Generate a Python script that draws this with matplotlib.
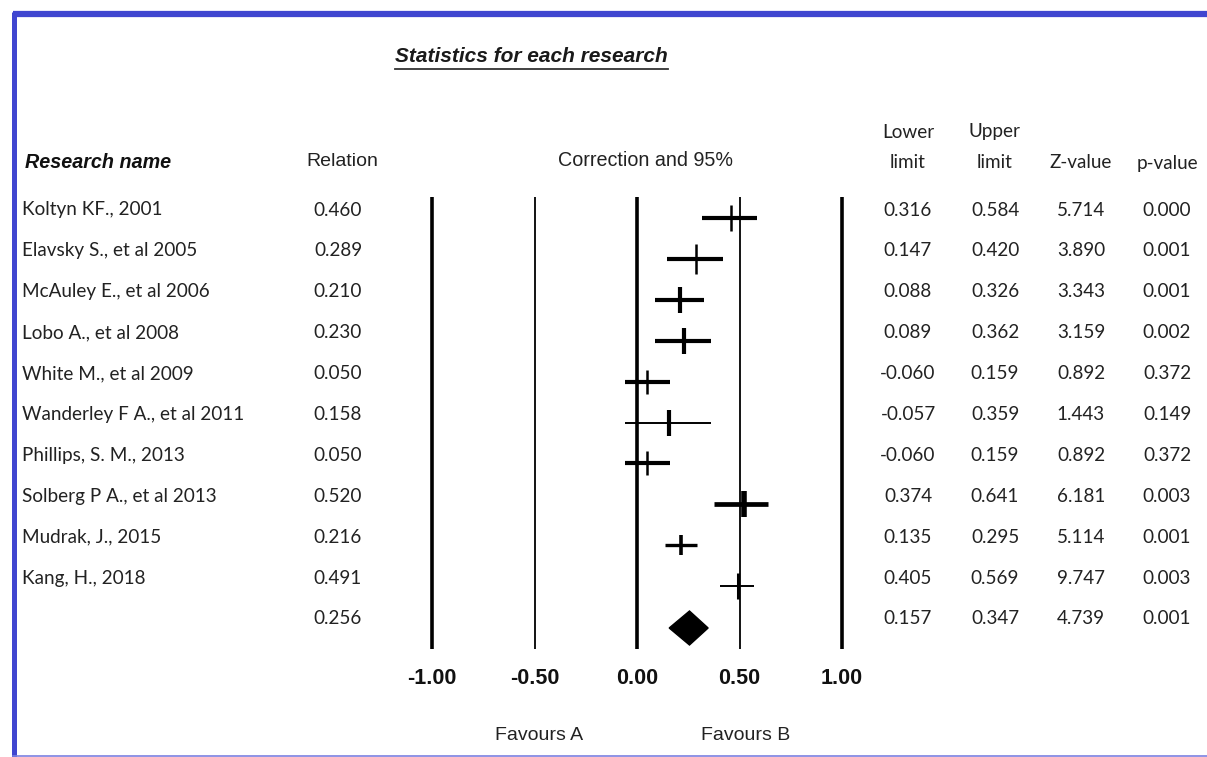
import matplotlib
matplotlib.use("Agg")
import matplotlib.pyplot as plt
from matplotlib.patches import Polygon

# ---------------- data ----------------
studies = ["Koltyn KF., 2001", "Elavsky S., et al 2005", "McAuley E., et al 2006",
           "Lobo A., et al 2008", "White M., et al 2009", "Wanderley F A., et al 2011",
           "Phillips, S. M., 2013", "Solberg P A., et al 2013", "Mudrak, J., 2015",
           "Kang, H., 2018"]
relation = [0.460, 0.289, 0.210, 0.230, 0.050, 0.158, 0.050, 0.520, 0.216, 0.491]
lower = [0.316, 0.147, 0.088, 0.089, -0.060, -0.057, -0.060, 0.374, 0.135, 0.405]
upper = [0.584, 0.420, 0.326, 0.362, 0.159, 0.359, 0.159, 0.641, 0.295, 0.569]
zvalue = [5.714, 3.890, 3.343, 3.159, 0.892, 1.443, 0.892, 6.181, 5.114, 9.747]
pvalue = [0.000, 0.001, 0.001, 0.002, 0.372, 0.149, 0.372, 0.003, 0.001, 0.003]

summary_relation = 0.256
summary_lower = 0.157
summary_upper = 0.347
summary_z = 4.739
summary_p = 0.001

xticks = [-1.00, -0.50, 0.00, 0.50, 1.00]
xtick_labels = ["-1.00", "-0.50", "0.00", "0.50", "1.00"]

# ---------------- styles ----------------
ci_width = [3.0, 3.0, 3.0, 3.0, 3.0, 1.4, 3.0, 3.4, 2.4, 1.4]
mk_width = [1.8, 1.8, 3.0, 3.0, 1.8, 3.0, 1.8, 4.0, 2.6, 2.2]
mk_size = [19, 21, 19, 19, 17, 19, 17, 19, 15, 19]

W, H = 1207, 757
fig = plt.figure(figsize=(W / 100, H / 100), dpi=100)
fig.patch.set_facecolor("white")

# full-figure pixel axes for text
ax = fig.add_axes([0, 0, 1, 1])
ax.set_xlim(0, W)
ax.set_ylim(H, 0)
ax.axis("off")

# forest axes: x in data units, y in figure pixels
x0, x1 = 432, 842
fax = fig.add_axes([x0 / W, 0, (x1 - x0) / W, 1])
fax.set_xlim(-1, 1)
fax.set_ylim(H, 0)
fax.axis("off")

# border
border = "#4046d0"
ax.plot([13, W], [14, 14], color=border, lw=4.5, solid_capstyle="butt", clip_on=False)
ax.plot([13.5, 13.5], [12, H], color=border, lw=3.6, solid_capstyle="butt", clip_on=False)
ax.plot([13, W], [755.5, 755.5], color="#7b80e0", lw=1.2, clip_on=False)

calibri = ["Lato", "DejaVu Sans"]
arial = ["Liberation Sans", "DejaVu Sans"]
FS = 13.6
txtc = "#222222"

# title with underline
t = ax.text(395, 57, "Statistics for each research", fontsize=15, fontweight="bold",
            fontstyle="italic", family=arial, ha="left", va="center", color="#1a1a1a")
fig.canvas.draw()
bb = t.get_window_extent(fig.canvas.get_renderer())
ax.plot([bb.x0, bb.x1], [69, 69], color="#333333", lw=1.3)

# headers
ax.text(25, 162, "Research name", fontsize=14.2, fontweight="bold", fontstyle="italic",
        family=arial, ha="left", va="center", color="#111111")
ax.text(342, 162, "Relation", fontsize=14, family=arial, ha="center", va="center", color=txtc)
ax.text(646, 160, "Correction and 95%", fontsize=14.2, family=arial, ha="center", va="center", color=txtc)

col_x = [908, 995, 1081, 1167]
ax.text(col_x[0], 132, "Lower", fontsize=FS, family=calibri, ha="center", va="center", color=txtc)
ax.text(col_x[0], 163, "limit", fontsize=FS, family=calibri, ha="center", va="center", color=txtc)
ax.text(col_x[1], 132, "Upper", fontsize=FS, family=calibri, ha="center", va="center", color=txtc)
ax.text(col_x[1], 163, "limit", fontsize=FS, family=calibri, ha="center", va="center", color=txtc)
ax.text(col_x[2], 163, "Z-value", fontsize=FS, family=calibri, ha="center", va="center", color=txtc)
ax.text(col_x[3], 163, "p-value", fontsize=FS, family=calibri, ha="center", va="center", color=txtc)

row0, dy = 210, 40.9
mark_off = 8

for i, name in enumerate(studies):
    y = row0 + i * dy
    ax.text(22, y, name, fontsize=FS, family=calibri, ha="left", va="center", color=txtc)
    ax.text(338, y, f"{relation[i]:.3f}", fontsize=FS, family=calibri, ha="center", va="center", color=txtc)
    ax.text(col_x[0], y, f"{lower[i]:.3f}", fontsize=FS, family=calibri, ha="center", va="center", color=txtc)
    ax.text(col_x[1], y, f"{upper[i]:.3f}", fontsize=FS, family=calibri, ha="center", va="center", color=txtc)
    ax.text(col_x[2], y, f"{zvalue[i]:.3f}", fontsize=FS, family=calibri, ha="center", va="center", color=txtc)
    ax.text(col_x[3], y, f"{pvalue[i]:.3f}", fontsize=FS, family=calibri, ha="center", va="center", color=txtc)

ys = row0 + len(studies) * dy
for xx, v in zip([338] + col_x, [summary_relation, summary_lower, summary_upper, summary_z, summary_p]):
    ax.text(xx, ys, f"{v:.3f}", fontsize=FS, family=calibri, ha="center", va="center", color=txtc)

# reference lines
line_top, line_bot = 197, 649
for xt in xticks:
    lw = 2.6 if abs(xt) in (0.0, 1.0) else 1.3
    fax.plot([xt, xt], [line_top, line_bot], color="black", lw=lw, solid_capstyle="butt", clip_on=False)

# study CIs and markers
for i in range(len(studies)):
    y = row0 + i * dy + mark_off
    fax.plot([lower[i], upper[i]], [y, y], color="black", lw=ci_width[i],
             solid_capstyle="butt", clip_on=False)
    fax.plot([relation[i]], [y], marker="|", color="black", markersize=mk_size[i],
             markeredgewidth=mk_width[i], clip_on=False)

# summary diamond
yd = ys + 9
hd = 17
fax.add_patch(Polygon([[summary_lower, yd], [summary_relation, yd - hd],
                       [summary_upper, yd], [summary_relation, yd + hd]],
                      closed=True, facecolor="black", edgecolor="black", lw=1, clip_on=False))

# tick labels
for xt, lab in zip(xticks, xtick_labels):
    fax.text(xt, 678, lab, fontsize=15.5, fontweight="bold", family=arial,
             ha="center", va="center", color="#111111")

fax.text(-0.48, 735, "Favours A", fontsize=14, family=arial, ha="center", va="center", color=txtc)
fax.text(0.53, 735, "Favours B", fontsize=14, family=arial, ha="center", va="center", color=txtc)

fig.savefig("out.png", dpi=100, facecolor="white")
